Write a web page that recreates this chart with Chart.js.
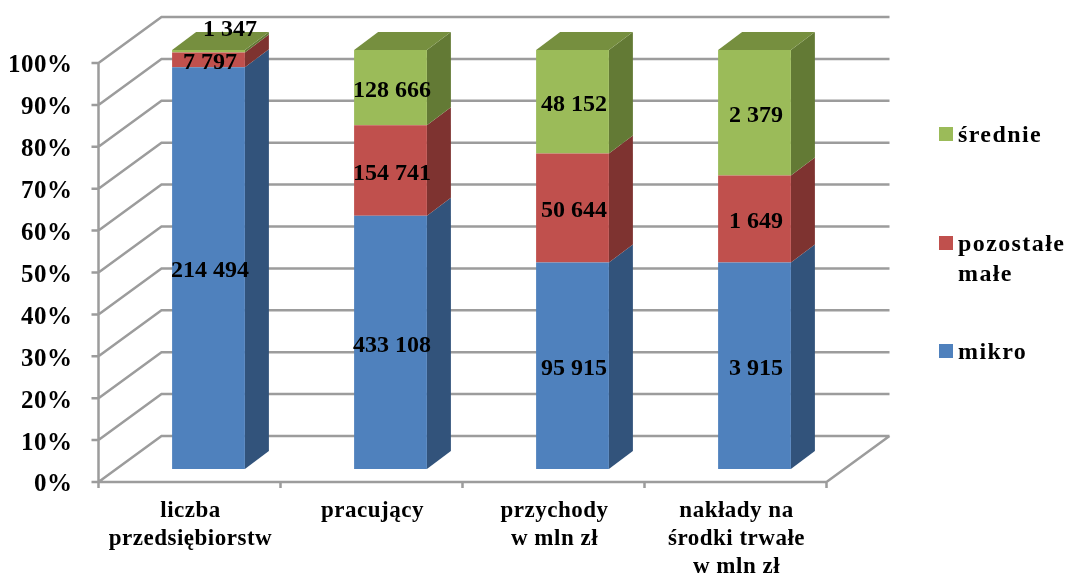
<!DOCTYPE html>
<html>
<head>
<meta charset="utf-8">
<title>Struktura przedsiębiorstw</title>
<style>
  html, body { margin: 0; padding: 0; background: #ffffff; }
  canvas { display: block; }
</style>
<script src="https://cdn.jsdelivr.net/npm/chart.js@4"></script>
</head>
<body>
<canvas id="chart" width="1067" height="573"></canvas>
<script>
const categories = [
  ['liczba', 'przedsiębiorstw'],
  ['pracujący'],
  ['przychody', 'w mln zł'],
  ['nakłady na', 'środki trwałe', 'w mln zł'],
]
const mikro = [214494, 433108, 95915, 3915]
const pozostaleMale = [7797, 154741, 50644, 1649]
const srednie = [1347, 128666, 48152, 2379]
const legendLabels = [['średnie'], ['pozostałe', 'małe'], ['mikro']]
const yTicks = { min: 0, max: 100, step: 10 }

const totals = mikro.map((v, i) => v + pozostaleMale[i] + srednie[i])
const share = (values) => values.map((v, i) => (v / totals[i]) * 100)

const FONT = "'Liberation Serif', 'Times New Roman', serif"
const GRID = '#9c9c9c'

// depth of the fake 3d box, measured from the bar front plane
const FRONT = { x: -19, y: 13 }
const BACK = { x: 44, y: -33 }
const BAR_DEPTH = { x: 24, y: -18 }

const series = [
  { label: 'mikro', raw: mikro, color: '#4f81bd', side: '#32537b', top: '#3f6797' },
  { label: 'pozostałe małe', raw: pozostaleMale, color: '#c0504d', side: '#7e3330', top: '#9a403e' },
  { label: 'średnie', raw: srednie, color: '#9bbb59', side: '#637a35', top: '#768f3f' },
]

const formatValue = (v) => String(v).replace(/\B(?=(\d{3})+$)/g, ' ')

const spacing = {
  id: 'spacing',
  beforeDraw(chart) {
    chart.ctx.letterSpacing = '0.5px'
  },
}

const walls = {
  id: 'walls',
  beforeDatasetsDraw(chart) {
    const {
      ctx,
      chartArea: { left, right },
      scales: { x, y },
    } = chart
    const y0 = y.getPixelForValue(0)
    const y100 = y.getPixelForValue(100)
    ctx.save()
    ctx.strokeStyle = GRID
    ctx.lineWidth = 2.5
    ctx.beginPath()
    for (let v = yTicks.min; v <= yTicks.max; v += yTicks.step) {
      const py = y.getPixelForValue(v)
      ctx.moveTo(left + FRONT.x - 7, py + FRONT.y)
      ctx.lineTo(left + FRONT.x, py + FRONT.y)
      ctx.lineTo(left + BACK.x, py + BACK.y)
      ctx.lineTo(right + BACK.x, py + BACK.y)
    }
    // front axis lines and floor edge
    ctx.moveTo(left + FRONT.x, y100 + FRONT.y)
    ctx.lineTo(left + FRONT.x, y0 + FRONT.y + 6)
    ctx.moveTo(left + FRONT.x, y0 + FRONT.y)
    ctx.lineTo(right + FRONT.x, y0 + FRONT.y)
    ctx.lineTo(right + BACK.x, y0 + BACK.y)
    const step = (right - left) / x.ticks.length
    for (let i = 1; i <= x.ticks.length; i++) {
      ctx.moveTo(left + FRONT.x + step * i, y0 + FRONT.y)
      ctx.lineTo(left + FRONT.x + step * i, y0 + FRONT.y + 6)
    }
    ctx.stroke()
    ctx.restore()
  },
}

const face = (ctx, points, color) => {
  ctx.fillStyle = color
  ctx.beginPath()
  points.forEach(([px, py], i) => (i ? ctx.lineTo(px, py) : ctx.moveTo(px, py)))
  ctx.closePath()
  ctx.fill()
}

const barSides = {
  id: 'barSides',
  beforeDatasetsDraw(chart) {
    const { ctx } = chart
    const last = series.length - 1
    series.forEach((s, d) => {
      chart.getDatasetMeta(d).data.forEach((bar) => {
        const l = bar.x - bar.width / 2
        const r = bar.x + bar.width / 2
        const dx = BAR_DEPTH.x
        const dy = BAR_DEPTH.y
        face(ctx, [[r, bar.base], [r + dx, bar.base + dy], [r + dx, bar.y + dy], [r, bar.y]], s.side)
        if (d === last) {
          face(ctx, [[l, bar.y], [l + dx, bar.y + dy], [r + dx, bar.y + dy], [r, bar.y]], s.top)
        }
      })
    })
  },
}

const valueLabels = {
  id: 'valueLabels',
  afterDatasetsDraw(chart) {
    const { ctx } = chart
    ctx.save()
    ctx.font = `bold 24px ${FONT}`
    ctx.letterSpacing = '0px'
    ctx.fillStyle = '#000000'
    ctx.textAlign = 'center'
    ctx.textBaseline = 'middle'
    series.forEach((s, d) => {
      chart.getDatasetMeta(d).data.forEach((bar, i) => {
        let px = bar.x + 1.5
        let py = (bar.y + bar.base) / 2 + 3
        // the smallest segment has its label pulled out above the bar
        if (s.raw[i] === 1347) {
          px += 20
          py -= 24
        }
        ctx.fillText(formatValue(s.raw[i]), px, py)
      })
    })
    ctx.restore()
  },
}

const sideLegend = {
  id: 'sideLegend',
  afterDraw(chart) {
    const { ctx } = chart
    const colors = [series[2].color, series[1].color, series[0].color]
    const baselines = [142, 251, 359]
    ctx.save()
    ctx.font = `bold 24px ${FONT}`
    ctx.letterSpacing = '1.4px'
    ctx.textAlign = 'left'
    ctx.textBaseline = 'alphabetic'
    legendLabels.forEach((lines, i) => {
      ctx.fillStyle = colors[i]
      ctx.fillRect(939, baselines[i] - 15, 14, 14)
      ctx.fillStyle = '#000000'
      lines.forEach((line, n) => ctx.fillText(line, 958, baselines[i] + n * 30))
    })
    ctx.restore()
  },
}

new Chart(document.getElementById('chart'), {
  type: 'bar',
  data: {
    labels: categories,
    datasets: series.map((s) => ({
      label: s.label,
      data: share(s.raw),
      backgroundColor: s.color,
      barPercentage: 0.4,
      categoryPercentage: 1,
    })),
  },
  options: {
    responsive: false,
    animation: false,
    layout: { padding: { top: 50, right: 221.5 } },
    plugins: {
      legend: { display: false },
      tooltip: { enabled: false },
    },
    scales: {
      x: {
        stacked: true,
        border: { display: false },
        grid: { display: false, drawTicks: false },
        afterFit(scale) {
          scale.height = 104
        },
        ticks: {
          color: '#000000',
          padding: 28,
          labelOffset: -18,
          maxRotation: 0,
          font: { family: FONT, size: 23, weight: 'bold', lineHeight: 1.22 },
        },
      },
      y: {
        stacked: true,
        min: yTicks.min,
        max: yTicks.max,
        border: { display: false },
        grid: { display: false, drawTicks: false },
        afterFit(scale) {
          scale.width = 117.5
          scale.paddingTop = 0
          scale.paddingBottom = 0
        },
        ticks: {
          stepSize: yTicks.step,
          color: '#000000',
          padding: 45,
          labelOffset: 16,
          font: { family: FONT, size: 25, weight: 'bold' },
          callback: (v) => v + '%',
        },
      },
    },
  },
  plugins: [spacing, walls, barSides, valueLabels, sideLegend],
})
</script>
</body>
</html>
